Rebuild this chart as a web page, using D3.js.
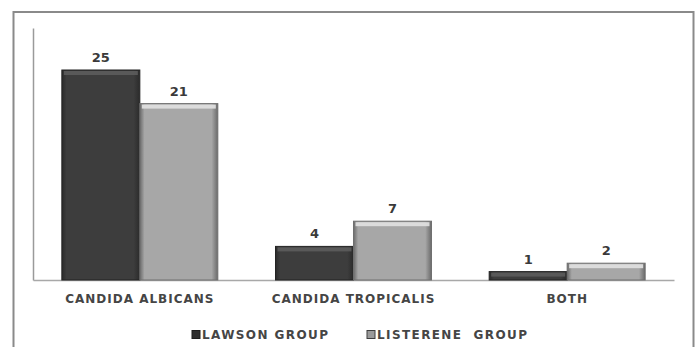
<!DOCTYPE html>
<html>
<head>
<meta charset="utf-8">
<script src="https://cdn.jsdelivr.net/npm/d3@7"></script>
<style>
  html, body { margin: 0; padding: 0; background: #fff; }
  svg { display: block; }
  text { font-family: "DejaVu Sans", Verdana, sans-serif; }
</style>
</head>
<body>
<svg id="chart" width="700" height="347"></svg>
<script>
// Chart data
const categories = ["CANDIDA ALBICANS", "CANDIDA TROPICALIS", "BOTH"];
const seriesNames = ["LAWSON GROUP", "LISTERENE  GROUP"];
const lawson = [25, 4, 1];
const listerene = [21, 7, 2];

const seriesValues = [lawson, listerene];
const rows = categories.map((c, i) => ({
  category: c,
  values: seriesNames.map((s, j) => ({ series: s, idx: j, value: seriesValues[j][i] }))
}));

const svg = d3.select("#chart");

// Series styling: body fill, top bevel, outline
const styles = [
  { fill: "#3d3d3d", top: "#5c5c5c", edge: "#232323", side: "#2b2b2b" },
  { fill: "#a7a7a7", top: "#e2e2e2", edge: "#6f6f6f", side: "#6a6a6a" }
];

// Gradients giving the bars their rounded, bevelled look
const defs = svg.append("defs");
styles.forEach((st, i) => {
  const g = defs.append("linearGradient").attr("id", "bar" + i)
    .attr("x1", 0).attr("x2", 1).attr("y1", 0).attr("y2", 0);
  g.append("stop").attr("offset", "0%").attr("stop-color", st.side);
  g.append("stop").attr("offset", "6%").attr("stop-color", st.fill);
  g.append("stop").attr("offset", "92%").attr("stop-color", st.fill);
  g.append("stop").attr("offset", "100%").attr("stop-color", st.side);
});

// Outer frame
svg.append("rect")
  .attr("x", 13.5).attr("y", 12)
  .attr("width", 680).attr("height", 345)
  .attr("fill", "none").attr("stroke", "#8a8a8a").attr("stroke-width", 2);

const margin = { left: 33, right: 674, top: 28, bottom: 280 };

const x0 = d3.scaleBand()
  .domain(categories)
  .range([margin.left, margin.right])
  .paddingInner(0.27)
  .paddingOuter(0.135);

const x1 = d3.scaleBand()
  .domain(seriesNames)
  .range([0, x0.bandwidth()])
  .padding(0);

const y = d3.scaleLinear()
  .domain([0, 30])
  .range([margin.bottom, margin.top]);

// Vertical axis line (no ticks)
const yAxis = svg.append("g")
  .attr("transform", `translate(${margin.left},0)`)
  .call(d3.axisLeft(y).tickValues([]).tickSizeOuter(0));
yAxis.select(".domain").attr("stroke", "#9a9a9a").attr("stroke-width", 1.5);

// Category axis along the baseline
const xAxis = svg.append("g")
  .attr("transform", `translate(0,${margin.bottom})`)
  .call(d3.axisBottom(x0).tickSize(0).tickSizeOuter(0).tickPadding(14));
xAxis.select(".domain").attr("stroke", "#a8a8a8").attr("stroke-width", 1.5);
xAxis.selectAll("text")
  .attr("font-size", 12)
  .attr("font-weight", "bold")
  .attr("letter-spacing", 1.0)
  .attr("fill", "#454545")
  .style("font-family", "'DejaVu Sans', Verdana, sans-serif");

// Bars
const groups = svg.append("g").selectAll("g")
  .data(rows)
  .join("g")
  .attr("transform", d => `translate(${x0(d.category)},0)`);

const bars = groups.selectAll("g.bar")
  .data(d => d.values)
  .join("g").attr("class", "bar");

bars.append("rect")
  .attr("x", d => x1(d.series))
  .attr("y", d => y(d.value))
  .attr("width", x1.bandwidth())
  .attr("height", d => y(0) - y(d.value))
  .attr("fill", d => `url(#bar${d.idx})`)
  .attr("stroke", d => styles[d.idx].edge)
  .attr("stroke-width", 1);

// Top bevel
bars.append("rect")
  .attr("x", d => x1(d.series) + 2)
  .attr("y", d => y(d.value) + 1)
  .attr("width", x1.bandwidth() - 4)
  .attr("height", d => Math.min(4, (y(0) - y(d.value)) / 2))
  .attr("fill", d => styles[d.idx].top)
  .attr("opacity", 0.9);

// Value labels
bars.append("text")
  .attr("x", d => x1(d.series) + x1.bandwidth() / 2)
  .attr("y", d => y(d.value) - 8)
  .attr("text-anchor", "middle")
  .attr("font-size", 13)
  .attr("font-weight", "bold")
  .attr("fill", "#3a3a3a")
  .text(d => d.value);

// Legend
const legendX = [192, 367];
const legend = svg.append("g").selectAll("g")
  .data(seriesNames)
  .join("g")
  .attr("transform", (d, i) => `translate(${legendX[i]},335)`);

legend.append("rect")
  .attr("x", 0).attr("y", -4.5)
  .attr("width", 8).attr("height", 8)
  .attr("fill", (d, i) => i === 0 ? "#2e2e2e" : "#9a9a9a")
  .attr("stroke", (d, i) => i === 0 ? "#1e1e1e" : "#3e3e3e")
  .attr("stroke-width", 1);

legend.append("text")
  .attr("x", 10)
  .attr("y", 4)
  .attr("font-size", 12)
  .attr("font-weight", "bold")
  .attr("letter-spacing", 1.4)
  .attr("fill", "#454545")
  .style("white-space", "pre")
  .text(d => d);
</script>
</body>
</html>
